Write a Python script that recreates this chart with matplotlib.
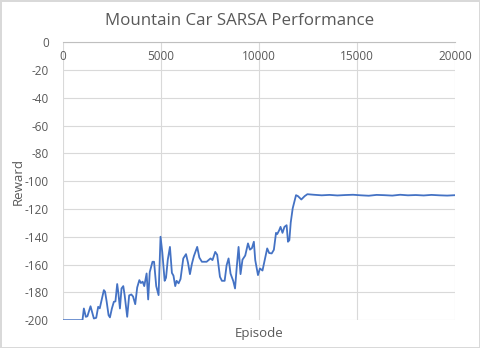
import matplotlib
matplotlib.use("Agg")
from matplotlib import pyplot as plt

plt.rcParams['font.family'] = ['Open Sans', 'DejaVu Sans']
plt.rcParams['axes.unicode_minus'] = False

# episode / reward pairs
episodes = [0, 500, 1000, 1070, 1170, 1250, 1410, 1580, 1700, 1800, 1880, 2090, 2150, 2230,
            2330, 2400, 2500, 2600, 2680, 2770, 2830, 2910, 2990, 3080, 3150, 3280, 3380,
            3490, 3580, 3690, 3790, 3900, 3980, 4070, 4150, 4270, 4350, 4430, 4570, 4650,
            4760, 4880, 4980, 5070, 5190, 5260, 5350, 5460, 5560, 5640, 5730, 5800, 5900,
            6000, 6140, 6280, 6380, 6480, 6580, 6680, 6850, 6960, 7090, 7330, 7530, 7630,
            7770, 7870, 8010, 8110, 8250, 8350, 8450, 8550, 8690, 8780, 8860, 8960, 9060,
            9160, 9300, 9440, 9540, 9640, 9740, 9810, 9950, 10050, 10180, 10280, 10420,
            10520, 10650, 10760, 10870, 10930, 11030, 11100, 11200, 11300, 11410, 11480,
            11550, 11620, 11720, 11890, 11990, 12160, 12330, 12470, 12800, 13200, 13600,
            14000, 14400, 14800, 15200, 15600, 16000, 16400, 16800, 17200, 17600, 18000,
            18400, 18800, 19200, 19600, 20000]
rewards = [-200, -200, -200, -191.6, -197.6, -197.2, -190, -198.8, -198.3, -190.4, -191.5,
           -178.4, -179.5, -186.4, -196.4, -198, -191.6, -186.8, -186.5, -174, -180.5,
           -191.6, -177.2, -175.5, -182, -197.6, -182.2, -181.5, -183, -188.5, -176.5,
           -171.2, -173.3, -172.3, -175.5, -166.4, -185.1, -165.4, -158, -158, -175.5,
           -182, -140, -151.2, -171.7, -169.5, -156.5, -147.3, -166, -168, -175.5, -171.7,
           -173.5, -170.4, -155.6, -152.5, -158.6, -166.9, -159.5, -154, -147.3, -155,
           -158, -158, -155.6, -156.8, -150.9, -153, -168.8, -171.7, -171.7, -160.5,
           -155.6, -166.5, -171.9, -177.2, -163, -147.3, -166.9, -156.5, -153.5, -144.8,
           -149.3, -148.2, -143.6, -156.8, -167.6, -162.8, -164.3, -157.8, -148.4, -151.7,
           -152, -149.4, -137.2, -138.1, -135.4, -132.9, -137.2, -132.9, -131.7, -143.6,
           -142.5, -129.8, -119.6, -110.1, -110.8, -113.2, -110.8, -109.4, -109.8, -110.2,
           -109.9, -110.3, -110, -109.8, -110.2, -110.5, -109.9, -110.1, -110.4, -109.8,
           -110.2, -110, -110.3, -109.9, -110.2, -110.4, -110.1]

fig = plt.figure(figsize=(4.8, 3.48), dpi=100)
fig.patch.set_edgecolor("#d9d9d9")
fig.patch.set_linewidth(1)
ax = fig.add_axes([0.131, 0.080, 0.817, 0.799])

ax.plot(episodes, rewards, color="#4472c4", linewidth=1.3)

ax.set_xlim(0, 20000)
ax.set_ylim(-200, 0)
ax.set_xticks(range(0, 20001, 5000))
ax.set_yticks(range(-200, 1, 20))
ax.grid(True, color="#d9d9d9", linewidth=0.8)
ax.set_axisbelow(True)
for s in ["left", "right", "bottom"]:
    ax.spines[s].set_visible(False)
ax.spines["top"].set_color("#bfbfbf")

ax.xaxis.set_ticks_position("top")
ax.tick_params(axis="x", length=0, labeltop=True, labelbottom=False, pad=-15,
               labelsize=8.5, labelcolor="#595959")
ax.tick_params(axis="y", length=0, pad=10, labelsize=8.5, labelcolor="#595959")

fig.suptitle("Mountain Car SARSA Performance", fontsize=12.2, color="#595959", y=0.962)
ax.set_xlabel("Episode", fontsize=9.5, color="#595959")
ax.set_ylabel("Reward", fontsize=9.5, color="#595959")
ax.xaxis.set_label_coords(0.5, -0.025)
ax.yaxis.set_label_coords(-0.098, 0.5)

plt.savefig("out.png", dpi=100)
